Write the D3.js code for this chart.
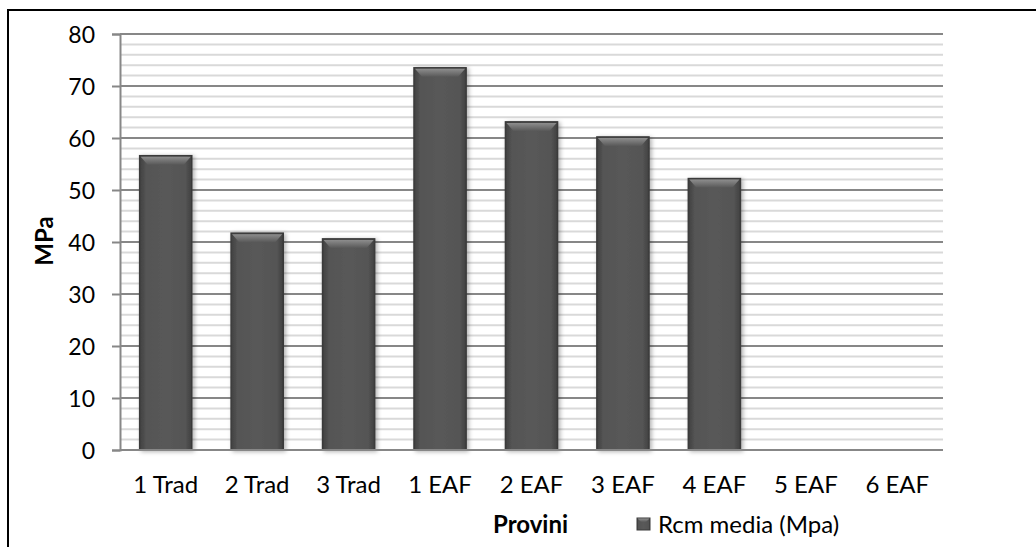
<!DOCTYPE html>
<html>
<head>
<meta charset="utf-8">
<script src="https://cdn.jsdelivr.net/npm/d3@7"></script>
<style>
  html, body { margin: 0; padding: 0; background: #fff; }
  svg { display: block; }
  text { font-family: Lato, "Open Sans", sans-serif; fill: #000; }
</style>
</head>
<body>
<div id="chart"></div>
<script>
// ---- data ----
const categories = ["1 Trad", "2 Trad", "3 Trad", "1 EAF", "2 EAF", "3 EAF", "4 EAF", "5 EAF", "6 EAF"];
const values = [56.6, 41.7, 40.6, 73.5, 63.1, 60.2, 52.2, null, null];
const majorTicks = [0, 10, 20, 30, 40, 50, 60, 70, 80];
const minorTicks = d3.range(0, 81, 2);
const seriesName = "Rcm media (Mpa)";
const xTitle = "Provini";
const yTitle = "MPa";

// ---- layout ----
const W = 1036, H = 547;
const plot = { left: 120, right: 943, top: 34, bottom: 450 };

const svg = d3.select("#chart").append("svg")
  .attr("width", W).attr("height", H);

const defs = svg.append("defs");
const body = defs.append("linearGradient").attr("id", "barBody")
  .attr("x1", 0).attr("x2", 1).attr("y1", 0).attr("y2", 0);
body.append("stop").attr("offset", "0%").attr("stop-color", "#404040");
body.append("stop").attr("offset", "12%").attr("stop-color", "#545454");
body.append("stop").attr("offset", "50%").attr("stop-color", "#595959");
body.append("stop").attr("offset", "88%").attr("stop-color", "#545454");
body.append("stop").attr("offset", "100%").attr("stop-color", "#404040");
const bevel = defs.append("linearGradient").attr("id", "bevel")
  .attr("x1", 0).attr("x2", 0).attr("y1", 0).attr("y2", 1);
bevel.append("stop").attr("offset", "0%").attr("stop-color", "#8e8e8e");
bevel.append("stop").attr("offset", "100%").attr("stop-color", "#595959");
const shadow = defs.append("filter").attr("id", "shadow")
  .attr("x", "-20%").attr("y", "-10%").attr("width", "150%").attr("height", "130%");
shadow.append("feDropShadow").attr("dx", 2).attr("dy", 1)
  .attr("stdDeviation", 2).attr("flood-color", "#000").attr("flood-opacity", 0.3);

// frame
svg.append("rect").attr("x", 8).attr("y", 10).attr("width", 1100).attr("height", 600)
  .attr("fill", "none").attr("stroke", "#000").attr("stroke-width", 2);

const x = d3.scaleBand().domain(categories).range([plot.left, plot.right])
  .paddingInner(0.43).paddingOuter(0.215);
const y = d3.scaleLinear().domain([0, 80]).range([plot.bottom, plot.top]);

// minor gridlines
svg.append("g").selectAll("line").data(minorTicks.filter(d => d % 10 !== 0)).join("line")
  .attr("x1", plot.left).attr("x2", plot.right)
  .attr("y1", d => y(d)).attr("y2", d => y(d))
  .attr("stroke", "#d9d9d9").attr("stroke-width", 2);

// major gridlines
svg.append("g").selectAll("line").data(majorTicks.filter(d => d !== 0)).join("line")
  .attr("x1", plot.left).attr("x2", plot.right)
  .attr("y1", d => y(d)).attr("y2", d => y(d))
  .attr("stroke", "#878787").attr("stroke-width", 2);

// y axis
const yAxis = svg.append("g").attr("transform", `translate(${plot.left},0)`)
  .call(d3.axisLeft(y).tickValues(majorTicks).tickSize(8).tickPadding(17).tickFormat(d3.format("d")));
yAxis.select(".domain").attr("stroke", "#878787").attr("stroke-width", 2);
yAxis.selectAll(".tick line").attr("stroke", "#878787").attr("stroke-width", 2);
yAxis.selectAll(".tick text").attr("font-size", 23).attr("font-family", "Lato, sans-serif")
  .attr("fill", "#000").attr("dy", "0.36em");

// bars
const bars = svg.append("g").selectAll("g").data(categories.map((c, i) => ({ c, v: values[i] })).filter(d => d.v != null))
  .join("g");
bars.append("rect")
  .attr("x", d => x(d.c)).attr("y", d => y(d.v))
  .attr("width", x.bandwidth()).attr("height", d => y(0) - y(d.v))
  .attr("fill", "url(#barBody)").attr("stroke", "#3a3a3a").attr("stroke-width", 1.5)
  .attr("filter", "url(#shadow)");
bars.append("path")
  .attr("d", d => {
    const x0 = x(d.c) + 1, x1 = x(d.c) + x.bandwidth() - 1, t = y(d.v) + 1, b = t + 8;
    return `M${x0},${t}L${x1},${t}L${x1 - 7},${b}L${x0 + 7},${b}Z`;
  })
  .attr("fill", "url(#bevel)");

// x axis baseline
svg.append("line").attr("x1", plot.left).attr("x2", plot.right)
  .attr("y1", y(0)).attr("y2", y(0)).attr("stroke", "#878787").attr("stroke-width", 2);

// x labels
svg.append("g").selectAll("text").data(categories).join("text")
  .attr("x", d => x(d) + x.bandwidth() / 2).attr("y", 493)
  .attr("text-anchor", "middle").attr("font-size", 24).text(d => d);

// axis titles
svg.append("text").attr("transform", "translate(53,241) rotate(-90)")
  .attr("text-anchor", "middle").attr("font-size", 24).attr("font-weight", "bold").text(yTitle);
svg.append("text").attr("x", 493).attr("y", 533)
  .attr("font-size", 24).attr("font-weight", "bold").text(xTitle);

// legend
svg.append("rect").attr("x", 637).attr("y", 518).attr("width", 13).attr("height", 12)
  .attr("fill", "url(#barBody)").attr("stroke", "#3a3a3a").attr("stroke-width", 1);
svg.append("path").attr("d", "M637.5,518.5L649.5,518.5L646,522L641,522Z").attr("fill", "url(#bevel)");
svg.append("text").attr("x", 658).attr("y", 533).attr("font-size", 24).text(seriesName);
</script>
</body>
</html>
